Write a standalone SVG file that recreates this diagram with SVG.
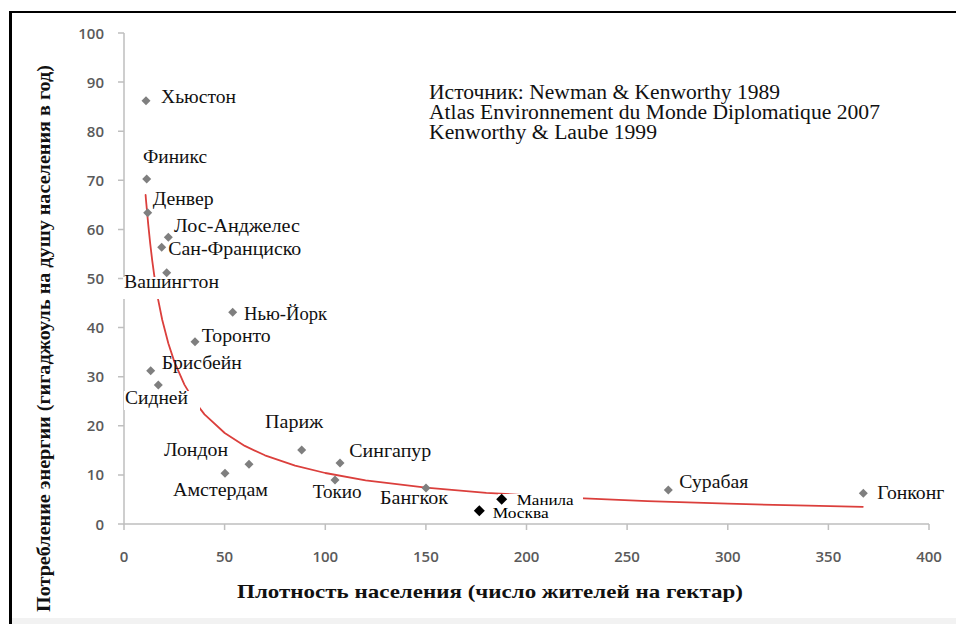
<svg xmlns="http://www.w3.org/2000/svg" width="956" height="624" viewBox="0 0 956 624">
<defs>
<style>
.tick{font-family:"Open Sans","Liberation Sans",sans-serif;font-size:15px;font-weight:600;fill:#5a5a5a}
.lbl{font-family:"Liberation Serif","Times New Roman",serif;font-size:18.5px;fill:#111}
.lbl2{font-family:"Liberation Serif","Times New Roman",serif;font-size:14px;fill:#000}
.ttl{font-family:"Liberation Serif","Times New Roman",serif;font-size:19px;font-weight:bold;fill:#111}
.src{font-family:"Liberation Serif","Times New Roman",serif;font-size:20px;fill:#111}
.ax{stroke:#bfbfbf;stroke-width:1.5;fill:none}
.pt{fill:#7f7f7f}
.pk{fill:#000}
.bg{fill:#fff}
.trend{fill:none;stroke:#db3f3c;stroke-width:1.8;stroke-linejoin:round;stroke-linecap:round}
</style>
<path id="dm" d="M0,-4.5 L4.5,0 L0,4.5 L-4.5,0 Z"/>
<path id="dk" d="M0,-5.5 L5.5,0 L0,5.5 L-5.5,0 Z"/>
</defs>
<rect x="0" y="0" width="956" height="624" fill="#fff"/>
<rect x="12" y="618" width="944" height="6" fill="#f2f2f2"/>
<g id="frame" stroke="#000" fill="none">
<line x1="10" y1="12" x2="956" y2="12" stroke-width="2"/>
<line x1="10.5" y1="11" x2="10.5" y2="624" stroke-width="3"/>
</g>
<g id="axes">
<path class="ax" d="M124,33 V524 H929"/>
<path class="ax" d="M118,33 H124 M118,82.1 H124 M118,131.2 H124 M118,180.3 H124 M118,229.4 H124 M118,278.5 H124 M118,327.6 H124 M118,376.7 H124 M118,425.8 H124 M118,474.9 H124 M118,524 H124"/>
<path class="ax" d="M124,524 V530 M224.6,524 V530 M325.3,524 V530 M425.9,524 V530 M526.5,524 V530 M627.1,524 V530 M727.8,524 V530 M828.4,524 V530 M929,524 V530"/>
<g class="tick" text-anchor="end">
<text x="104" y="38.5">100</text>
<text x="104" y="87.6">90</text>
<text x="104" y="136.7">80</text>
<text x="104" y="185.8">70</text>
<text x="104" y="234.9">60</text>
<text x="104" y="284">50</text>
<text x="104" y="333.1">40</text>
<text x="104" y="382.2">30</text>
<text x="104" y="431.3">20</text>
<text x="104" y="480.4">10</text>
<text x="104" y="529.5">0</text>
</g>
<g class="tick" text-anchor="middle">
<text x="124" y="562">0</text>
<text x="224.6" y="562">50</text>
<text x="325.3" y="562">100</text>
<text x="425.9" y="562">150</text>
<text x="526.5" y="562">200</text>
<text x="627.1" y="562">250</text>
<text x="727.8" y="562">300</text>
<text x="828.4" y="562">350</text>
<text x="929" y="562">400</text>
</g>
<text class="ttl" transform="translate(50,338.5) rotate(-90)" text-anchor="middle" textLength="547" lengthAdjust="spacingAndGlyphs">Потребление энергии (гигаджоуль на душу населения в год)</text>
<text class="ttl" x="490" y="598" text-anchor="middle" textLength="506" lengthAdjust="spacingAndGlyphs">Плотность населения (число жителей на гектар)</text>
</g>
<g id="connectors">
<polyline class="trend" points="145.6,195 145.9,199 148.2,224.1 150.2,243.5 152.2,260.3 154.2,275.1 158.2,299.9 162.2,319.7 168.3,343.3 174.3,361.6 184.4,384.6 194.5,401.4 204.5,414.4 224.7,433 244.8,445.9 264.9,455.3 295.1,465.6 325.3,473 365.6,480.3 425.95,487.7 486.3,492.8 566.9,497.6 647.4,501.1 727.9,503.7 808.4,505.7 862.8,506.8"/>
</g>
<g id="label-boxes">
<rect class="bg" x="123" y="277" width="97" height="22"/>
<rect class="bg" x="124" y="391" width="76" height="19"/>
<rect class="bg" x="161" y="447" width="84" height="21"/>
<rect class="bg" x="498" y="494" width="85" height="16"/>
<rect class="bg" x="470" y="504" width="113" height="19"/>
</g>
<g id="source">
<text class="src" x="429" y="99" textLength="351" lengthAdjust="spacingAndGlyphs">Источник: Newman &amp; Kenworthy 1989</text>
<text class="src" x="429" y="119" textLength="451" lengthAdjust="spacingAndGlyphs">Atlas Environnement du Monde Diplomatique 2007</text>
<text class="src" x="429" y="139" textLength="228" lengthAdjust="spacingAndGlyphs">Kenworthy &amp; Laube 1999</text>
</g>
<g id="houston"><use href="#dm" class="pt" x="146" y="100.7"/><text class="lbl" x="161" y="103" textLength="75" lengthAdjust="spacingAndGlyphs">Хьюстон</text></g>
<g id="phoenix"><use href="#dm" class="pt" x="146.7" y="179"/><text class="lbl" x="143" y="163" textLength="64" lengthAdjust="spacingAndGlyphs">Финикс</text></g>
<g id="denver"><use href="#dm" class="pt" x="147.7" y="212.7"/><text class="lbl" x="152.7" y="205" textLength="61" lengthAdjust="spacingAndGlyphs">Денвер</text></g>
<g id="los-angeles"><use href="#dm" class="pt" x="168.3" y="237.3"/><text class="lbl" x="174" y="232" textLength="126" lengthAdjust="spacingAndGlyphs">Лос-Анджелес</text></g>
<g id="san-francisco"><use href="#dm" class="pt" x="161.7" y="247.3"/><text class="lbl" x="168.3" y="254.5" textLength="133" lengthAdjust="spacingAndGlyphs">Сан-Франциско</text></g>
<g id="washington"><use href="#dm" class="pt" x="166.7" y="272.7"/><text class="lbl" x="124" y="288" textLength="95" lengthAdjust="spacingAndGlyphs">Вашингтон</text></g>
<g id="new-york"><use href="#dm" class="pt" x="232.7" y="312.3"/><text class="lbl" x="244" y="320" textLength="83" lengthAdjust="spacingAndGlyphs">Нью-Йорк</text></g>
<g id="toronto"><use href="#dm" class="pt" x="195" y="341.7"/><text class="lbl" x="201.7" y="342" textLength="69" lengthAdjust="spacingAndGlyphs">Торонто</text></g>
<g id="brisbane"><use href="#dm" class="pt" x="150.7" y="370.7"/><text class="lbl" x="161.7" y="368.5" textLength="80" lengthAdjust="spacingAndGlyphs">Брисбейн</text></g>
<g id="sydney"><use href="#dm" class="pt" x="158.3" y="385"/><text class="lbl" x="125" y="404" textLength="63" lengthAdjust="spacingAndGlyphs">Сидней</text></g>
<g id="paris"><use href="#dm" class="pt" x="301.7" y="450"/><text class="lbl" x="265" y="428" textLength="58" lengthAdjust="spacingAndGlyphs">Париж</text></g>
<g id="london"><use href="#dm" class="pt" x="249" y="464.3"/><text class="lbl" x="164" y="456" textLength="64" lengthAdjust="spacingAndGlyphs">Лондон</text></g>
<g id="amsterdam"><use href="#dm" class="pt" x="225" y="473.3"/><text class="lbl" x="173" y="496" textLength="95" lengthAdjust="spacingAndGlyphs">Амстердам</text></g>
<g id="singapore"><use href="#dm" class="pt" x="340" y="463"/><text class="lbl" x="349.3" y="457" textLength="82" lengthAdjust="spacingAndGlyphs">Сингапур</text></g>
<g id="tokyo"><use href="#dm" class="pt" x="335" y="480"/><text class="lbl" x="312.7" y="498" textLength="49" lengthAdjust="spacingAndGlyphs">Токио</text></g>
<g id="bangkok"><use href="#dm" class="pt" x="426" y="488"/><text class="lbl" x="380" y="504" textLength="68" lengthAdjust="spacingAndGlyphs">Бангкок</text></g>
<g id="moscow"><use href="#dk" class="pk" x="479.3" y="510.7"/><text class="lbl2" x="492.7" y="518" textLength="56" lengthAdjust="spacingAndGlyphs">Москва</text></g>
<g id="manila"><use href="#dk" class="pk" x="501.7" y="499.3"/><text class="lbl2" x="516.7" y="504.5" textLength="57" lengthAdjust="spacingAndGlyphs">Манила</text></g>
<g id="surabaya"><use href="#dm" class="pt" x="668.3" y="490"/><text class="lbl" x="679.3" y="487.5" textLength="69" lengthAdjust="spacingAndGlyphs">Сурабая</text></g>
<g id="hong-kong"><use href="#dm" class="pt" x="863.3" y="493.3"/><text class="lbl" x="877.3" y="499.3" textLength="67" lengthAdjust="spacingAndGlyphs">Гонконг</text></g>
</svg>
